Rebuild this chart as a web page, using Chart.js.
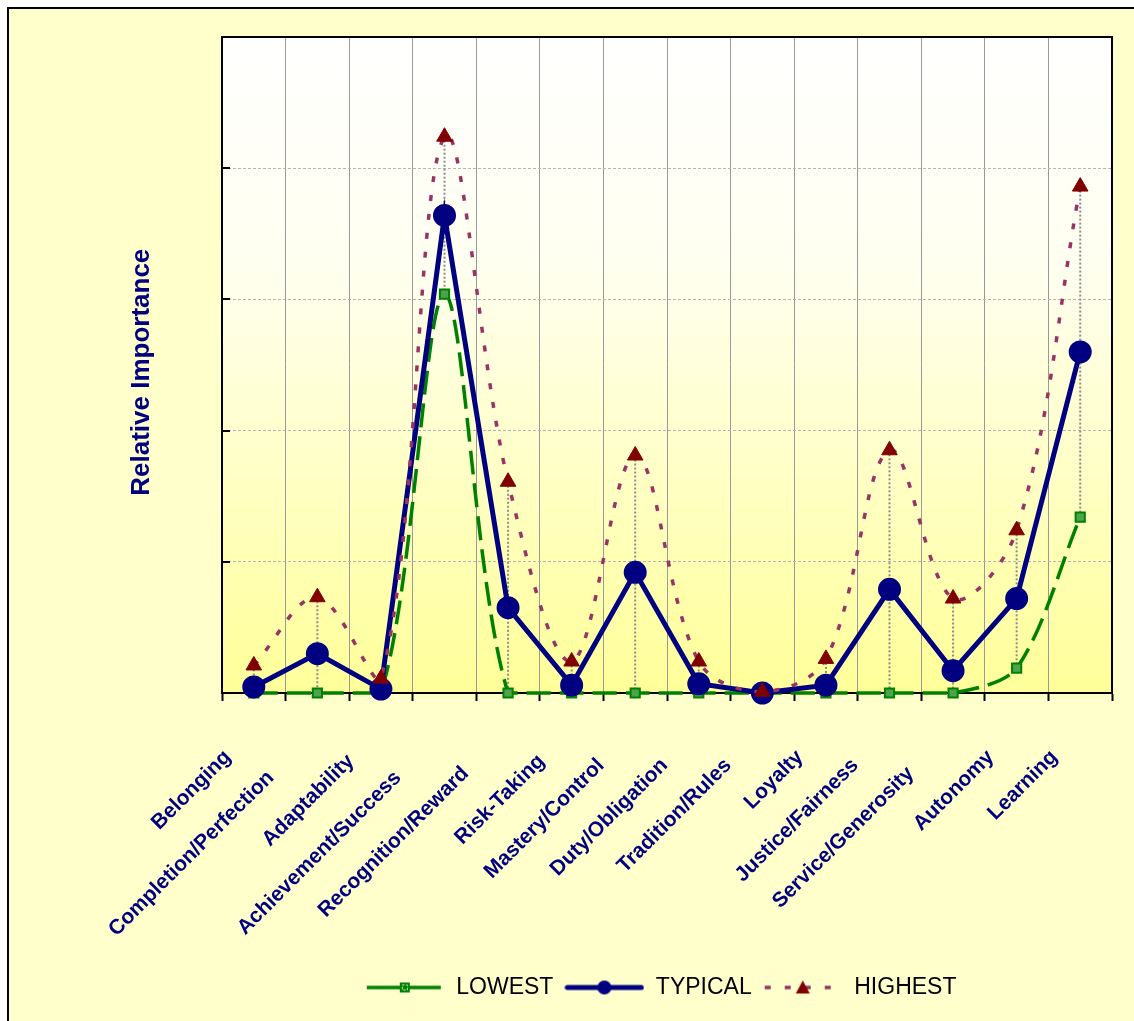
<!DOCTYPE html>
<html lang="en">
<head>
    <meta charset="UTF-8">
    <title>Relative Importance</title>
    <script src="https://cdn.jsdelivr.net/npm/chart.js"></script>
    <style>
        html, body {
            margin: 0;
            padding: 0;
            background: #ffffff;
            overflow: hidden;
        }
        #chart {
            display: block;
        }
    </style>
</head>
<body>
    <canvas id="chart" width="1134" height="1021"></canvas>

    <script>
        // chart data
        var categories = ['Belonging', 'Completion/Perfection', 'Adaptability', 'Achievement/Success',
            'Recognition/Reward', 'Risk-Taking', 'Mastery/Control', 'Duty/Obligation', 'Tradition/Rules',
            'Loyalty', 'Justice/Fairness', 'Service/Generosity', 'Autonomy', 'Learning'];
        var lowest  = [0, 0, 0, 15.2, 0, 0, 0, 0, 0, 0, 0, 0, 0.95, 6.7];
        var typical = [0.23, 1.5, 0.15, 18.2, 3.25, 0.3, 4.6, 0.35, 0, 0.3, 3.95, 0.85, 3.6, 13.0];
        var highest = [1.05, 3.65, 0.55, 21.2, 8.05, 1.2, 9.05, 1.2, 0.05, 1.3, 9.25, 3.6, 6.2, 19.3];
        var yMax = 25;
        var yStep = 5;

        var FONT = '"Liberation Sans", Arial, sans-serif';
        var NAVY = '#000080';
        var GREEN = '#008000';
        var PLUM = '#993366';
        var MAROON = '#800000';
        var LABEL_SIZE = 21;

        // long category labels sit a bit lower/left in the original, like excel does it.
        // pad them with trailing spaces so their end moves down the 45deg line
        var measureCtx = document.createElement('canvas').getContext('2d');
        measureCtx.font = 'bold ' + LABEL_SIZE + 'px ' + FONT;
        var spaceW = measureCtx.measureText(' ').width;
        function padLabel(text) {
            var w = measureCtx.measureText(text).width;
            var n = Math.round(Math.max(0, (w - 105) * 0.24) / spaceW);
            return text + ' '.repeat(n);
        }

        // little canvases used as legend symbols (line + marker)
        function legendSymbol(kind) {
            var c = document.createElement('canvas');
            c.width = 80;
            c.height = 22;
            var g = c.getContext('2d');
            var cy = 11, cx = 40;
            g.lineCap = 'butt';
            if (kind === 'low') {
                g.strokeStyle = GREEN;
                g.lineWidth = 3.5;
                g.beginPath(); g.moveTo(2, cy); g.lineTo(76, cy); g.stroke();
                g.fillStyle = GREEN;
                g.fillRect(cx - 5, cy - 5, 10, 10);
                g.strokeStyle = '#ffffff';
                g.lineWidth = 1;
                g.setLineDash([2, 2]);
                g.strokeRect(cx - 2.5, cy - 2.5, 5, 5);
            } else if (kind === 'typ') {
                g.strokeStyle = NAVY;
                g.lineWidth = 5;
                g.lineCap = 'round';
                g.beginPath(); g.moveTo(3, cy); g.lineTo(77, cy); g.stroke();
                g.fillStyle = NAVY;
                g.beginPath(); g.arc(cx, cy, 7, 0, Math.PI * 2); g.fill();
            } else {
                g.strokeStyle = PLUM;
                g.lineWidth = 3.5;
                g.setLineDash([6, 14]);
                g.beginPath(); g.moveTo(2, cy); g.lineTo(78, cy); g.stroke();
                g.setLineDash([]);
                g.fillStyle = MAROON;
                g.beginPath();
                g.moveTo(cx, cy - 7); g.lineTo(cx + 7, cy + 6); g.lineTo(cx - 7, cy + 6);
                g.closePath(); g.fill();
            }
            return c;
        }

        // page frame, plot gradient, plot border, high-low lines, inner y ticks
        var decorations = {
            id: 'decorations',
            beforeDraw: function (chart) {
                var ctx = chart.ctx;
                var a = chart.chartArea;
                ctx.save();
                ctx.fillStyle = '#ffffff';
                ctx.fillRect(0, 0, chart.width, chart.height);
                ctx.fillStyle = '#ffffcc';
                ctx.fillRect(8, 8, chart.width, chart.height);
                ctx.fillStyle = '#000000';
                ctx.fillRect(7, 7, chart.width, 2);
                ctx.fillRect(7, 7, 2, chart.height);

                var grad = ctx.createLinearGradient(0, a.top, 0, a.bottom);
                grad.addColorStop(0, '#ffffff');
                grad.addColorStop(0.35, '#fffff0');
                grad.addColorStop(1, '#ffff99');
                ctx.fillStyle = grad;
                ctx.fillRect(a.left, a.top, a.right - a.left, a.bottom - a.top);
                ctx.restore();
            },
            beforeDatasetsDraw: function (chart) {
                var ctx = chart.ctx;
                var a = chart.chartArea;
                var y = chart.scales.y;
                var hi = chart.getDatasetMeta(2).data;
                var lo = chart.getDatasetMeta(0).data;
                ctx.save();
                // high-low lines
                ctx.strokeStyle = '#8c8c8c';
                ctx.lineWidth = 2;
                ctx.setLineDash([2, 2]);
                for (var i = 0; i < hi.length; i++) {
                    ctx.beginPath();
                    ctx.moveTo(hi[i].x, hi[i].y);
                    ctx.lineTo(lo[i].x, lo[i].y);
                    ctx.stroke();
                }
                ctx.setLineDash([]);
                // inner tick marks on the value axis
                ctx.strokeStyle = '#000000';
                ctx.lineWidth = 2;
                for (var v = 0; v <= yMax; v += yStep) {
                    var py = Math.round(y.getPixelForValue(v));
                    ctx.beginPath();
                    ctx.moveTo(a.left, py);
                    ctx.lineTo(a.left + 8, py);
                    ctx.stroke();
                }
                // top and right edge of the plot
                ctx.beginPath();
                ctx.moveTo(a.left, a.top);
                ctx.lineTo(a.right, a.top);
                ctx.lineTo(a.right, a.bottom);
                ctx.stroke();
                ctx.restore();
            }
        };

        var ctx = document.getElementById('chart').getContext('2d');
        var chart = new Chart(ctx, {
            type: 'line',
            data: {
                labels: categories,
                datasets: [{
                    label: 'LOWEST',
                    data: lowest,
                    borderColor: GREEN,
                    borderWidth: 3.5,
                    borderDash: [24, 9],
                    tension: 0.3,
                    pointStyle: 'rect',
                    pointRadius: 6.5,
                    pointBackgroundColor: '#4ea34e',
                    pointBorderColor: GREEN,
                    pointBorderWidth: 2,
                    order: 3
                }, {
                    label: 'TYPICAL',
                    data: typical,
                    borderColor: NAVY,
                    borderWidth: 5,
                    tension: 0,
                    pointStyle: 'circle',
                    pointRadius: 9,
                    pointBackgroundColor: NAVY,
                    pointBorderColor: NAVY,
                    order: 2
                }, {
                    label: 'HIGHEST',
                    data: highest,
                    borderColor: PLUM,
                    borderWidth: 3.5,
                    borderDash: [6, 13],
                    tension: 0.35,
                    pointStyle: 'triangle',
                    pointRadius: 9,
                    pointBackgroundColor: MAROON,
                    pointBorderColor: MAROON,
                    pointBorderWidth: 1,
                    order: 1
                }]
            },
            options: {
                responsive: false,
                animation: false,
                clip: false,
                layout: {
                    padding: { top: 37, right: 22, bottom: 12, left: 0 }
                },
                plugins: {
                    tooltip: { enabled: false },
                    legend: {
                        position: 'bottom',
                        fullSize: false,
                        labels: {
                            usePointStyle: true,
                            pointStyleWidth: 80,
                            padding: 11,
                            color: '#000000',
                            font: { family: FONT, size: 23 },
                            generateLabels: function () {
                                // trailing spaces on the last one nudge the row a little left
                                var names = ['LOWEST', 'TYPICAL', 'HIGHEST  '];
                                var kinds = ['low', 'typ', 'high'];
                                return names.map(function (n, i) {
                                    return {
                                        text: n,
                                        pointStyle: legendSymbol(kinds[i]),
                                        fillStyle: 'rgba(0,0,0,0)',
                                        strokeStyle: 'rgba(0,0,0,0)',
                                        lineWidth: 0,
                                        hidden: false,
                                        datasetIndex: i,
                                        fontColor: '#000000'
                                    };
                                });
                            }
                        }
                    }
                },
                scales: {
                    x: {
                        offset: true,
                        afterFit: function (scale) {
                            scale.height = 272;
                            scale.paddingLeft = 0;
                            scale.paddingRight = 0;
                        },
                        grid: {
                            offset: true,
                            color: '#999999',
                            lineWidth: 1,
                            tickColor: '#000000',
                            tickWidth: 2,
                            tickLength: 8
                        },
                        border: { color: '#000000', width: 2 },
                        ticks: {
                            autoSkip: false,
                            minRotation: 45,
                            maxRotation: 45,
                            padding: 44,
                            labelOffset: -26,
                            color: NAVY,
                            font: { family: FONT, size: LABEL_SIZE, weight: 'bold' },
                            callback: function (value) {
                                return padLabel(this.getLabelForValue(value));
                            }
                        }
                    },
                    y: {
                        min: 0,
                        max: yMax,
                        afterFit: function (scale) { scale.width = 222; },
                        ticks: { stepSize: yStep, display: false },
                        grid: { color: '#b4b4b4', lineWidth: 1, drawTicks: false },
                        border: { color: '#000000', width: 2, dash: [3, 2] },
                        title: {
                            display: true,
                            text: 'Relative Importance  ',
                            color: NAVY,
                            font: { family: FONT, size: 26, weight: 'bold' },
                            padding: { top: 126, bottom: 0 }
                        }
                    }
                }
            },
            plugins: [decorations]
        });
    </script>
</body>
</html>
